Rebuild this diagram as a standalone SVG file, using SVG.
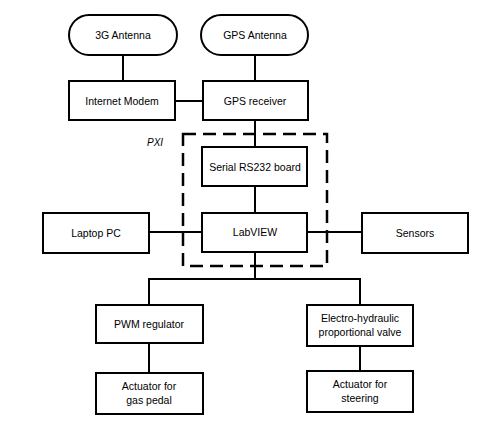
<svg xmlns="http://www.w3.org/2000/svg" width="484" height="427" viewBox="0 0 484 427">
<style>
.box{fill:#fff;stroke:#000;stroke-width:2}
.t{font-family:"Liberation Sans",Arial,sans-serif;font-size:10.5px;fill:#000;text-anchor:middle}
.c{stroke:#000;stroke-width:2;fill:none}
.d{stroke:#000;stroke-width:2.5;fill:none;stroke-dasharray:13 7}
</style>
<rect width="484" height="427" fill="#fff"/>
<g id="connectors">
<line class="c" x1="123" y1="55" x2="123" y2="81"/>
<line class="c" x1="255" y1="55" x2="255" y2="81"/>
<line class="c" x1="175" y1="101" x2="203" y2="101"/>
<line class="c" x1="255" y1="120" x2="255" y2="147"/>
<line class="c" x1="255" y1="186" x2="255" y2="213"/>
<line class="c" x1="149" y1="232" x2="202" y2="232"/>
<line class="c" x1="307" y1="232" x2="362" y2="232"/>
<polyline class="c" points="255,252 255,279"/>
<polyline class="c" points="149,305 149,279 360,279 360,305"/>
<line class="c" x1="149" y1="343" x2="149" y2="373"/>
<line class="c" x1="360" y1="346" x2="360" y2="371"/>
</g>
<g id="pxi">
<rect class="d" x="183" y="134" width="144" height="132"/>
<text x="147" y="146" font-family="Liberation Sans,Arial,sans-serif" font-size="10" font-style="italic">PXI</text>
</g>
<g id="antenna3g"><rect class="box" x="69" y="15" width="108" height="40" rx="20"/><text class="t" x="123" y="39">3G Antenna</text></g>
<g id="gpsantenna"><rect class="box" x="201" y="15" width="107" height="40" rx="20"/><text class="t" x="255" y="39">GPS Antenna</text></g>
<g id="modem"><rect class="box" x="69" y="81" width="106" height="39"/><text class="t" x="122" y="105">Internet Modem</text></g>
<g id="gpsreceiver"><rect class="box" x="203" y="81" width="105" height="39"/><text class="t" x="255" y="105">GPS receiver</text></g>
<g id="serial"><rect class="box" x="202" y="147" width="105" height="39"/><text class="t" x="255" y="171">Serial RS232 board</text></g>
<g id="labview"><rect class="box" x="202" y="213" width="105" height="39"/><text class="t" x="255" y="236">LabVIEW</text></g>
<g id="laptop"><rect class="box" x="43" y="213" width="106" height="40"/><text class="t" x="96" y="237">Laptop PC</text></g>
<g id="sensors"><rect class="box" x="362" y="213" width="106" height="40"/><text class="t" x="415" y="237">Sensors</text></g>
<g id="pwm"><rect class="box" x="96" y="305" width="107" height="38"/><text class="t" x="149" y="328">PWM regulator</text></g>
<g id="valve"><rect class="box" x="307" y="305" width="106" height="41"/><text class="t" x="360" y="322">Electro-hydraulic</text><text class="t" x="360" y="336">proportional valve</text></g>
<g id="gas"><rect class="box" x="96" y="373" width="107" height="41"/><text class="t" x="149" y="390">Actuator for</text><text class="t" x="149" y="404">gas pedal</text></g>
<g id="steering"><rect class="box" x="307" y="371" width="106" height="41"/><text class="t" x="360" y="388">Actuator for</text><text class="t" x="360" y="402">steering</text></g>
</svg>
